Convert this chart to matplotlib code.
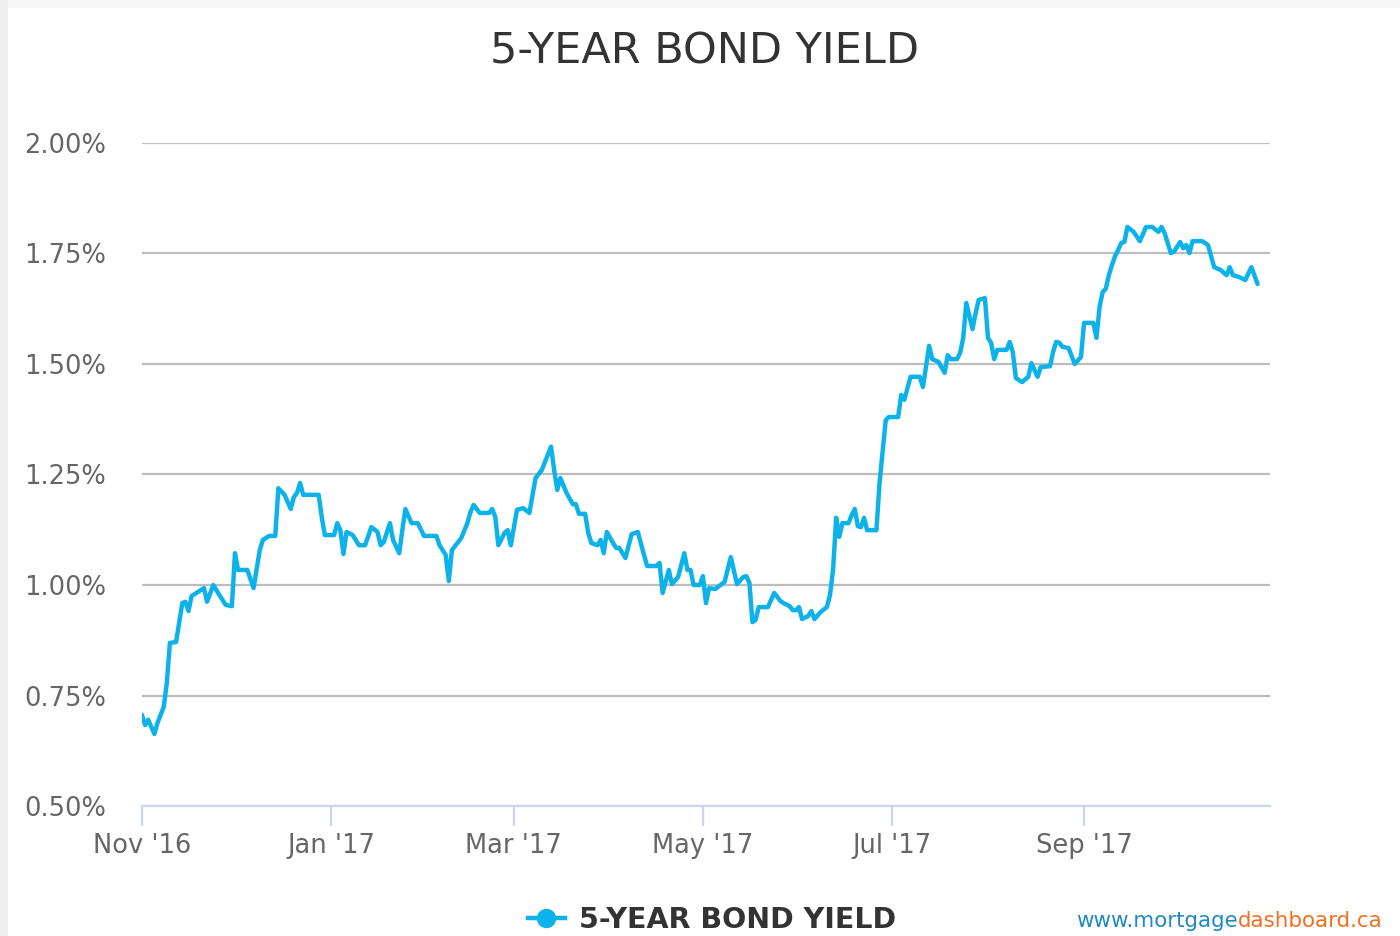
import numpy as np
import matplotlib
matplotlib.use("Agg")
import matplotlib.pyplot as plt
import matplotlib.dates as mdates
from matplotlib.patches import Rectangle
from matplotlib.lines import Line2D

# 5-year bond yield (%)
dates = [
    "2016-11-01", "2016-11-02", "2016-11-03", "2016-11-05", "2016-11-06", "2016-11-08",
    "2016-11-09", "2016-11-10", "2016-11-12", "2016-11-14", "2016-11-15", "2016-11-16",
    "2016-11-17", "2016-11-19", "2016-11-21", "2016-11-22", "2016-11-24", "2016-11-26",
    "2016-11-28", "2016-11-30", "2016-12-01", "2016-12-02", "2016-12-05", "2016-12-07",
    "2016-12-09", "2016-12-10", "2016-12-12", "2016-12-14", "2016-12-15", "2016-12-17",
    "2016-12-19", "2016-12-20", "2016-12-21", "2016-12-22", "2016-12-23", "2016-12-28",
    "2016-12-29", "2016-12-30", "2017-01-02", "2017-01-03", "2017-01-04", "2017-01-05",
    "2017-01-06", "2017-01-08", "2017-01-10", "2017-01-12", "2017-01-14", "2017-01-16",
    "2017-01-17", "2017-01-18", "2017-01-20", "2017-01-21", "2017-01-23", "2017-01-24",
    "2017-01-25", "2017-01-27", "2017-01-29", "2017-01-31", "2017-02-04", "2017-02-05",
    "2017-02-07", "2017-02-08", "2017-02-09", "2017-02-11", "2017-02-12", "2017-02-14",
    "2017-02-15", "2017-02-16", "2017-02-18", "2017-02-21", "2017-02-22", "2017-02-23",
    "2017-02-24", "2017-02-26", "2017-02-27", "2017-02-28", "2017-03-02", "2017-03-04",
    "2017-03-06", "2017-03-08", "2017-03-10", "2017-03-13", "2017-03-14", "2017-03-15",
    "2017-03-16", "2017-03-18", "2017-03-20", "2017-03-21", "2017-03-22", "2017-03-24",
    "2017-03-25", "2017-03-26", "2017-03-28", "2017-03-29", "2017-03-30", "2017-03-31",
    "2017-04-02", "2017-04-03", "2017-04-04", "2017-04-06", "2017-04-08", "2017-04-10",
    "2017-04-12", "2017-04-13", "2017-04-16", "2017-04-17", "2017-04-18", "2017-04-20",
    "2017-04-21", "2017-04-23", "2017-04-25", "2017-04-26", "2017-04-27", "2017-04-28",
    "2017-04-30", "2017-05-01", "2017-05-02", "2017-05-03", "2017-05-05", "2017-05-08",
    "2017-05-10", "2017-05-12", "2017-05-14", "2017-05-15", "2017-05-16", "2017-05-17",
    "2017-05-18", "2017-05-19", "2017-05-22", "2017-05-24", "2017-05-26", "2017-05-27",
    "2017-05-29", "2017-05-30", "2017-05-31", "2017-06-01", "2017-06-02", "2017-06-04",
    "2017-06-05", "2017-06-06", "2017-06-08", "2017-06-10", "2017-06-11", "2017-06-12",
    "2017-06-13", "2017-06-14", "2017-06-15", "2017-06-17", "2017-06-18", "2017-06-19",
    "2017-06-20", "2017-06-21", "2017-06-22", "2017-06-23", "2017-06-26", "2017-06-27",
    "2017-06-29", "2017-06-30", "2017-07-03", "2017-07-04", "2017-07-05", "2017-07-07",
    "2017-07-10", "2017-07-11", "2017-07-13", "2017-07-14", "2017-07-16", "2017-07-18",
    "2017-07-19", "2017-07-20", "2017-07-22", "2017-07-23", "2017-07-24", "2017-07-25",
    "2017-07-27", "2017-07-28", "2017-07-29", "2017-07-31", "2017-08-01", "2017-08-02",
    "2017-08-03", "2017-08-04", "2017-08-07", "2017-08-08", "2017-08-09", "2017-08-10",
    "2017-08-12", "2017-08-14", "2017-08-15", "2017-08-17", "2017-08-18", "2017-08-21",
    "2017-08-22", "2017-08-23", "2017-08-24", "2017-08-25", "2017-08-27", "2017-08-29",
    "2017-08-31", "2017-09-01", "2017-09-04", "2017-09-05", "2017-09-06", "2017-09-07",
    "2017-09-08", "2017-09-09", "2017-09-10", "2017-09-11", "2017-09-12", "2017-09-13",
    "2017-09-14", "2017-09-15", "2017-09-17", "2017-09-19", "2017-09-21", "2017-09-23",
    "2017-09-25", "2017-09-26", "2017-09-27", "2017-09-29", "2017-09-30", "2017-10-02",
    "2017-10-03", "2017-10-04", "2017-10-05", "2017-10-06", "2017-10-09", "2017-10-10",
    "2017-10-11", "2017-10-13", "2017-10-15", "2017-10-17", "2017-10-18", "2017-10-19",
    "2017-10-21", "2017-10-23", "2017-10-25", "2017-10-27",
]
yields = [
    0.706, 0.683, 0.695, 0.663, 0.688, 0.724,
    0.778, 0.869, 0.871, 0.959, 0.962, 0.941,
    0.975, 0.984, 0.993, 0.962, 1.000, 0.977,
    0.955, 0.952, 1.072, 1.034, 1.034, 0.993,
    1.079, 1.102, 1.111, 1.111, 1.219, 1.204,
    1.172, 1.199, 1.208, 1.231, 1.204, 1.204,
    1.154, 1.113, 1.113, 1.140, 1.124, 1.070,
    1.120, 1.113, 1.090, 1.090, 1.131, 1.120,
    1.090, 1.097, 1.140, 1.102, 1.072, 1.124,
    1.172, 1.140, 1.140, 1.111, 1.111, 1.090,
    1.068, 1.009, 1.079, 1.097, 1.106, 1.140,
    1.165, 1.181, 1.163, 1.163, 1.172, 1.154,
    1.090, 1.118, 1.124, 1.090, 1.170, 1.174,
    1.163, 1.242, 1.260, 1.313, 1.260, 1.215,
    1.242, 1.208, 1.183, 1.183, 1.161, 1.161,
    1.118, 1.095, 1.090, 1.102, 1.072, 1.120,
    1.095, 1.084, 1.084, 1.061, 1.115, 1.120,
    1.068, 1.043, 1.043, 1.050, 0.982, 1.034,
    1.002, 1.018, 1.072, 1.034, 1.034, 1.000,
    1.000, 1.020, 0.959, 0.993, 0.991, 1.007,
    1.063, 1.002, 1.018, 1.020, 1.005, 0.916,
    0.921, 0.950, 0.950, 0.982, 0.964, 0.959,
    0.952, 0.943, 0.943, 0.950, 0.923, 0.930,
    0.941, 0.923, 0.939, 0.950, 0.977, 1.034,
    1.152, 1.109, 1.140, 1.140, 1.158, 1.172,
    1.133, 1.131, 1.152, 1.124, 1.124, 1.231,
    1.373, 1.380, 1.380, 1.430, 1.419, 1.471,
    1.471, 1.448, 1.541, 1.511, 1.505, 1.480,
    1.520, 1.511, 1.511, 1.525, 1.559, 1.638,
    1.579, 1.615, 1.645, 1.649, 1.559, 1.548,
    1.511, 1.532, 1.532, 1.550, 1.527, 1.468,
    1.459, 1.471, 1.502, 1.471, 1.493, 1.495,
    1.527, 1.550, 1.548, 1.539, 1.536, 1.500,
    1.516, 1.593, 1.593, 1.559, 1.629, 1.663,
    1.670, 1.701, 1.724, 1.744, 1.758, 1.774,
    1.776, 1.810, 1.799, 1.778, 1.810, 1.810,
    1.799, 1.810, 1.796, 1.751, 1.754, 1.776,
    1.762, 1.769, 1.751, 1.778, 1.778, 1.774,
    1.769, 1.719, 1.713, 1.701, 1.719, 1.701,
    1.697, 1.690, 1.719, 1.681,
]
y_ticks = [0.50, 0.75, 1.00, 1.25, 1.50, 1.75, 2.00]
title = "5-YEAR BOND YIELD"

line_color = "#0db2ea"
grid_color = "#bdbdbd"
axis_color = "#ccd6eb"
label_color = "#666666"

x = np.array(dates, dtype="datetime64[D]")
y = np.array(yields)

fig = plt.figure(figsize=(14, 9.36), dpi=100)
fig.patch.set_facecolor("white")
# light page strips at the top and left edges
fig.patches.append(Rectangle((0, 1 - 8 / 936), 1, 8 / 936, transform=fig.transFigure,
                             facecolor="#f7f7f7", edgecolor="none", zorder=0))
fig.patches.append(Rectangle((0, 0), 8 / 1400, 1, transform=fig.transFigure,
                             facecolor="#eeeeee", edgecolor="none", zorder=0))

ax = fig.add_axes([142 / 1400, 130 / 936, 1128 / 1400, 663 / 936])
ax.plot(x, y, color=line_color, lw=3.2, solid_joinstyle="round",
        solid_capstyle="round", zorder=3)

ax.set_ylim(0.5, 2.0)
ax.set_xlim(np.datetime64("2016-11-01"), np.datetime64("2017-10-31"))
ax.set_yticks(y_ticks)
ax.set_yticklabels([f"{v:.2f}%" for v in y_ticks])
ax.yaxis.grid(True, color=grid_color, lw=1.6)
ax.set_axisbelow(True)

for side in ["top", "right", "left"]:
    ax.spines[side].set_visible(False)
ax.spines["bottom"].set_color(axis_color)
ax.spines["bottom"].set_linewidth(1.6)
ax.spines["bottom"].set_zorder(4)

ax.xaxis.set_major_locator(mdates.MonthLocator(bymonth=[1, 3, 5, 7, 9, 11]))
ax.xaxis.set_major_formatter(mdates.DateFormatter("%b '%y"))
ax.tick_params(axis="x", length=14.5, width=1.6, color=axis_color, pad=5,
               labelsize=18.5, labelcolor=label_color)
ax.tick_params(axis="y", length=0, pad=26, labelsize=18.5, labelcolor=label_color)

fig.text(705 / 1400, 1 - 52 / 936, title, ha="center", va="center",
         fontsize=31, color="#333333")

handle = Line2D([], [], color=line_color, lw=3.2, marker="o", markersize=13)
fig.legend([handle], [title], loc="center", bbox_to_anchor=(712 / 1400, 1 - 920 / 936),
           frameon=False, handlelength=1.3, handletextpad=0.5,
           prop={"weight": "bold", "size": 20.5}, labelcolor="#333333")

t1 = fig.text(1076 / 1400, 1 - 921 / 936, "www.mortgage", ha="left", va="center",
              fontsize=15.4, color="#1e8bc3")
fig.canvas.draw()
bb = t1.get_window_extent()
fig.text(bb.x1 / fig.bbox.width, 1 - 921 / 936, "dashboard.ca", ha="left", va="center",
         fontsize=15.4, color="#f26f21")

fig.savefig("out.png", dpi=100)
